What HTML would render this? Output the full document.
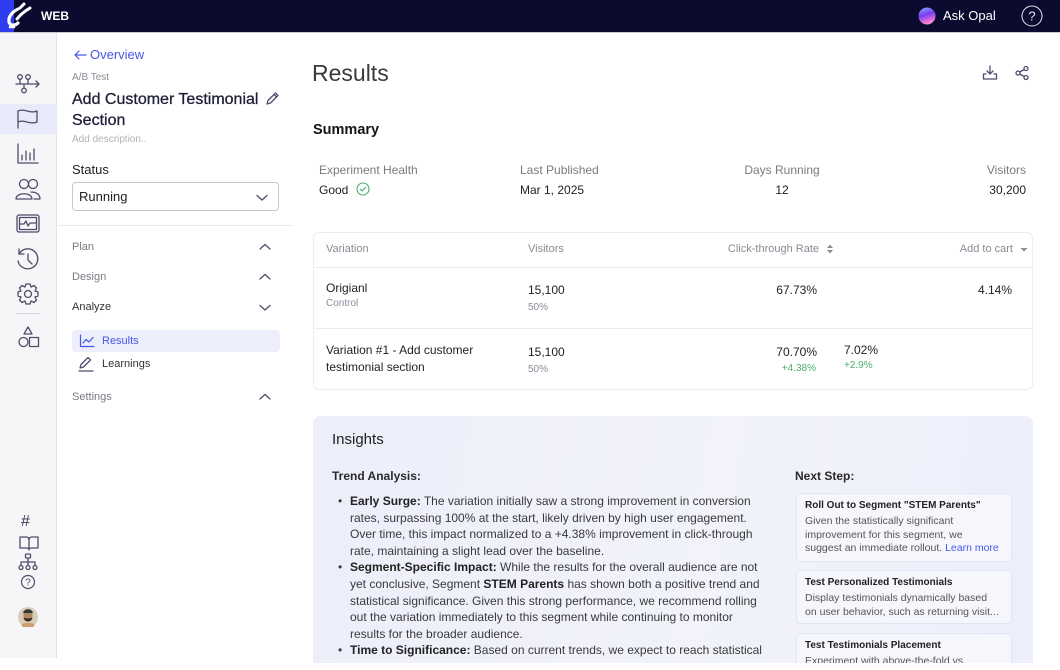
<!DOCTYPE html>
<html><head><meta charset="utf-8">
<style>
*{box-sizing:border-box;margin:0;padding:0}
html,body{width:1060px;height:670px;overflow:hidden;background:#fff;font-family:"Liberation Sans",Arial,sans-serif;color:#222}
.a{position:absolute;white-space:nowrap}
svg{position:absolute;overflow:visible}
.ic{fill:none;stroke:#4d4d6b;stroke-width:1.3;stroke-linecap:round;stroke-linejoin:round}
</style></head><body>
<!-- top bar -->
<div class="a" style="left:0;top:0;width:1060px;height:32px;background:#0b0b30"></div>
<div class="a" style="left:0;top:32px;width:1060px;height:1px;background:#c9cad3"></div>
<div class="a" style="left:0;top:0;width:14px;height:32px;background:#2f3df0"></div>
<svg width="40" height="32" style="left:0;top:0">
  <path d="M18 9 C12 12,8 17,9 22 C10 26,15 26,18 23" fill="none" stroke="#fff" stroke-width="3.2" stroke-linecap="round"/>
  <path d="M24 4 L20 8" stroke="#fff" stroke-width="3" stroke-linecap="round"/>
  <path d="M30 8 C25 11,20 15,17 19" fill="none" stroke="#fff" stroke-width="3" stroke-linecap="round"/>
  <path d="M10 27 L14 27" stroke="#fff" stroke-width="2.6" stroke-linecap="round"/>
</svg>
<div class="a" style="left:41px;top:9px;font-size:12px;color:#fff;font-weight:bold;line-height:14px">WEB</div>
<svg width="18" height="18" style="left:918px;top:7px">
  <defs><linearGradient id="og" x1="0" y1="0" x2="0.3" y2="1"><stop offset="0" stop-color="#7fb4ff"/><stop offset=".5" stop-color="#7a3cf0"/><stop offset="1" stop-color="#ff86d0"/></linearGradient></defs>
  <circle cx="9" cy="9" r="8.5" fill="url(#og)"/>
</svg>
<div class="a" style="left:943px;top:8px;font-size:13px;color:#fff;line-height:16px">Ask Opal</div>
<svg width="22" height="22" style="left:1021px;top:5px"><circle cx="11" cy="11" r="10" fill="none" stroke="#e6e6ee" stroke-width="1"/><text x="11" y="15.5" text-anchor="middle" font-size="13" fill="#e6e6ee" font-family="Liberation Sans">?</text></svg>

<!-- left rail -->
<div class="a" style="left:0;top:33px;width:57px;height:625px;background:#f6f6f8;border-right:1px solid #e2e2e8"></div>
<div class="a" style="left:0;top:104px;width:57px;height:30px;background:#e8eafa"></div>
<svg width="30" height="24" style="left:13px;top:72px" class="ic"><circle cx="7" cy="5" r="2.3"/><circle cx="15" cy="5" r="2.3"/><path d="M7 7.3V12M15 7.3V12M3 12H26M23 9L26 12L23 15M11 12V16"/><circle cx="11" cy="18.5" r="2.3"/></svg>
<svg width="24" height="24" style="left:16px;top:107px" class="ic"><path d="M2 4 C8 1,14 7,21 4 V15 C14 18,8 12,2 15 Z M2 4V21"/></svg>
<svg width="24" height="24" style="left:16px;top:142px" class="ic"><path d="M2 2V21H22"/><path d="M6 13V18M10 9V18M14 11V18M18 7V18"/></svg>
<svg width="28" height="24" style="left:14px;top:177px" class="ic"><circle cx="10" cy="7" r="4.5"/><circle cx="19" cy="7" r="4.5"/><path d="M2 22 C2 15,18 15,18 22 Z M17 15 C22 15,26 17,26 22 H20"/></svg>
<svg width="26" height="24" style="left:15px;top:212px" class="ic"><rect x="2" y="3" width="22" height="17" rx="2"/><rect x="4.5" y="5.5" width="17" height="12"/><path d="M5 12H9L11 9L13 14L15 11H21"/></svg>
<svg width="26" height="26" style="left:15px;top:246px" class="ic"><path d="M4 8 A10 10 0 1 1 3 15"/><path d="M4 3V8H9M13 8V14L17 18"/></svg>
<svg width="26" height="26" style="left:15px;top:281px" class="ic"><circle cx="13" cy="13" r="3.5"/><path d="M11 3H15L16 6L19 4.5L21.5 7L20 10L23 11V15L20 16L21.5 19L19 21.5L16 20L15 23H11L10 20L7 21.5L4.5 19L6 16L3 15V11L6 10L4.5 7L7 4.5L10 6Z"/></svg>
<div class="a" style="left:15px;top:313px;width:26px;height:1px;background:#d9d9df"></div>
<svg width="26" height="26" style="left:15px;top:324px" class="ic"><path d="M13 3L17 10H9Z"/><circle cx="8.5" cy="18" r="4.5"/><rect x="14.5" y="13.5" width="9" height="9"/></svg>
<div class="a" style="left:21px;top:513px;font-size:16px;color:#3a3a5a;line-height:18px">#</div>
<svg width="20" height="16" style="left:19px;top:535px" class="ic"><path d="M1 2H7C9 2,10 3,10 5V15C10 13,9 13,7 13H1Z M19 2H13C11 2,10 3,10 5V15C10 13,11 13,13 13H19Z"/></svg>
<svg width="20" height="18" style="left:18px;top:553px" class="ic"><rect x="7.5" y="1" width="5" height="4" rx="1"/><path d="M10 5V9M3 12V9H17V12M10 9V12"/><circle cx="3" cy="14.5" r="2"/><circle cx="10" cy="14.5" r="2"/><circle cx="17" cy="14.5" r="2"/></svg>
<svg width="16" height="16" style="left:20px;top:574px"><circle cx="8" cy="8" r="6.5" fill="none" stroke="#4d4d6b" stroke-width="1.2"/><text x="8" y="11.5" text-anchor="middle" font-size="10" fill="#4d4d6b" font-family="Liberation Sans">?</text></svg>
<svg width="22" height="22" style="left:17px;top:606px"><circle cx="11" cy="11" r="10" fill="#d9cdb8"/><circle cx="11" cy="9" r="4.5" fill="#b08a66"/><path d="M6 7 C7 2,15 2,16 7Z" fill="#333"/><path d="M6.5 11 C7 17,15 17,15.5 11 C14 13,8 13,6.5 11Z" fill="#3a2a20"/><path d="M4 19 C6 16,16 16,18 19 L16 21H6Z" fill="#c9a070"/></svg>

<!-- secondary panel -->
<svg width="16" height="12" style="left:73px;top:49px"><path d="M13 6H2M6 2L2 6L6 10" fill="none" stroke="#4458e6" stroke-width="1.2" stroke-linecap="round" stroke-linejoin="round"/></svg>
<div class="a" style="left:90px;top:47px;font-size:13px;color:#4458e6;line-height:16px">Overview</div>
<div class="a" style="left:72px;top:72px;font-size:10px;color:#8a8a94;line-height:12px">A/B Test</div>
<div class="a" style="left:72px;top:89px;font-size:16px;color:#1e1e38;line-height:21px;-webkit-text-stroke:0.3px #1e1e38">Add Customer Testimonial<br>Section</div>
<svg width="16" height="16" style="left:264px;top:91px" class="ic"><path d="M3 13L4 9.5L11.5 2L14 4.5L6.5 12Z M10 3.5L12.5 6"/></svg>
<div class="a" style="left:72px;top:134px;font-size:10px;color:#b2b2ba;line-height:12px">Add description..</div>
<div class="a" style="left:72px;top:162px;font-size:13px;color:#222;line-height:16px">Status</div>
<div class="a" style="left:72px;top:182px;width:207px;height:29px;border:1px solid #c6c6ce;border-radius:4px"></div>
<div class="a" style="left:79px;top:189px;font-size:13px;color:#222;line-height:16px">Running</div>
<svg width="12" height="8" style="left:256px;top:194px"><path d="M1 1.5L6 6L11 1.5" fill="none" stroke="#4d4d6b" stroke-width="1.3" stroke-linecap="round"/></svg>
<div class="a" style="left:58px;top:225px;width:235px;height:1px;background:#e8e8ec"></div>
<div class="a" style="left:72px;top:240px;font-size:11px;color:#7a7a84;line-height:14px">Plan</div>
<div class="a" style="left:72px;top:270px;font-size:11px;color:#7a7a84;line-height:14px">Design</div>
<div class="a" style="left:72px;top:300px;font-size:11px;color:#333;line-height:14px">Analyze</div>
<div class="a" style="left:72px;top:390px;font-size:11px;color:#7a7a84;line-height:14px">Settings</div>
<svg width="12" height="8" style="left:259px;top:243px"><path d="M1 6L6 1.5L11 6" fill="none" stroke="#4d4d6b" stroke-width="1.3" stroke-linecap="round"/></svg>
<svg width="12" height="8" style="left:259px;top:273px"><path d="M1 6L6 1.5L11 6" fill="none" stroke="#4d4d6b" stroke-width="1.3" stroke-linecap="round"/></svg>
<svg width="12" height="8" style="left:259px;top:304px"><path d="M1 1.5L6 6L11 1.5" fill="none" stroke="#4d4d6b" stroke-width="1.3" stroke-linecap="round"/></svg>
<svg width="12" height="8" style="left:259px;top:393px"><path d="M1 6L6 1.5L11 6" fill="none" stroke="#4d4d6b" stroke-width="1.3" stroke-linecap="round"/></svg>
<div class="a" style="left:72px;top:330px;width:208px;height:22px;background:#eceefb;border-radius:4px"></div>
<svg width="16" height="14" style="left:79px;top:334px"><path d="M1.5 1V12.5H15M4 9L7 5.5L10 8L14 3.5" fill="none" stroke="#4458e6" stroke-width="1.2" stroke-linecap="round" stroke-linejoin="round"/></svg>
<div class="a" style="left:102px;top:334px;font-size:11px;color:#4458e6;line-height:14px">Results</div>
<svg width="18" height="16" style="left:77px;top:356px" class="ic"><path d="M3 12L4 8.5L11 1.5L13.5 4L6.5 11Z M2 15H16"/></svg>
<div class="a" style="left:102px;top:357px;font-size:11px;color:#333;line-height:14px">Learnings</div>

<!-- main -->
<div class="a" style="left:312px;top:59px;font-size:23px;color:#3a3a3a;line-height:28px">Results</div>
<svg width="16" height="16" style="left:982px;top:65px" class="ic"><path d="M8 1V9M5 6L8 9L11 6M4 9H1.5V14H14.5V9H12"/></svg>
<svg width="16" height="16" style="left:1014px;top:65px" class="ic"><circle cx="12" cy="3.5" r="2"/><circle cx="4" cy="8" r="2"/><circle cx="12" cy="12.5" r="2"/><path d="M5.8 7L10.2 4.5M5.8 9L10.2 11.5"/></svg>
<div class="a" style="left:313px;top:121px;font-size:14.5px;font-weight:bold;color:#151515;line-height:18px">Summary</div>

<div class="a" style="left:319px;top:162px;font-size:12px;color:#7a7a7a;line-height:16px">Experiment Health</div>
<div class="a" style="left:319px;top:182px;font-size:12px;color:#222;line-height:16px">Good</div>
<svg width="14" height="14" style="left:356px;top:182px"><circle cx="7" cy="7" r="6" fill="none" stroke="#4cae6a" stroke-width="1.1"/><path d="M4.3 7.2L6.2 9L9.7 5.3" fill="none" stroke="#4cae6a" stroke-width="1.1" stroke-linecap="round"/></svg>
<div class="a" style="left:520px;top:162px;font-size:12px;color:#7a7a7a;line-height:16px">Last Published</div>
<div class="a" style="left:520px;top:182px;font-size:12px;color:#222;line-height:16px">Mar 1, 2025</div>
<div class="a" style="left:722px;top:162px;width:120px;text-align:center;font-size:12px;color:#7a7a7a;line-height:16px">Days Running</div>
<div class="a" style="left:722px;top:182px;width:120px;text-align:center;font-size:12px;color:#222;line-height:16px">12</div>
<div class="a" style="left:926px;top:162px;width:100px;text-align:right;font-size:12px;color:#7a7a7a;line-height:16px">Visitors</div>
<div class="a" style="left:926px;top:182px;width:100px;text-align:right;font-size:12px;color:#222;line-height:16px">30,200</div>

<!-- table -->
<div class="a" style="left:313px;top:232px;width:720px;height:158px;border:1px solid #ececf1;border-radius:6px"></div>
<div class="a" style="left:313px;top:267px;width:720px;height:1px;background:#ececf1"></div>
<div class="a" style="left:313px;top:328px;width:720px;height:1px;background:#ececf1"></div>
<div class="a" style="left:326px;top:242px;font-size:11px;color:#8a8a96;line-height:14px">Variation</div>
<div class="a" style="left:528px;top:242px;font-size:11px;color:#8a8a96;line-height:14px">Visitors</div>
<div class="a" style="left:680px;top:242px;width:139px;text-align:right;font-size:11px;color:#8a8a96;line-height:14px">Click-through Rate</div>
<svg width="8" height="12" style="left:826px;top:243px"><path d="M1 5L4 1.5L7 5Z M1 7L4 10.5L7 7Z" fill="#8a8a96"/></svg>
<div class="a" style="left:900px;top:242px;width:113px;text-align:right;font-size:11px;color:#8a8a96;line-height:14px">Add to cart</div>
<svg width="8" height="6" style="left:1020px;top:247px"><path d="M0.5 1L4 4.5L7.5 1Z" fill="#8a8a96"/></svg>

<div class="a" style="left:326px;top:280px;font-size:12px;color:#222;line-height:16px">Origianl</div>
<div class="a" style="left:326px;top:298px;font-size:10px;color:#8a8a9a;line-height:12px">Control</div>
<div class="a" style="left:528px;top:282px;font-size:12px;color:#222;line-height:16px">15,100</div>
<div class="a" style="left:528px;top:302px;font-size:10px;color:#8a8a9a;line-height:12px">50%</div>
<div class="a" style="left:717px;top:282px;width:100px;text-align:right;font-size:12px;color:#222;line-height:16px">67.73%</div>
<div class="a" style="left:912px;top:282px;width:100px;text-align:right;font-size:12px;color:#222;line-height:16px">4.14%</div>

<div class="a" style="left:326px;top:342px;font-size:12px;color:#222;line-height:16.5px">Variation #1 - Add customer<br>testimonial section</div>
<div class="a" style="left:528px;top:344px;font-size:12px;color:#222;line-height:16px">15,100</div>
<div class="a" style="left:528px;top:364px;font-size:10px;color:#8a8a9a;line-height:12px">50%</div>
<div class="a" style="left:717px;top:344px;width:100px;text-align:right;font-size:12px;color:#222;line-height:16px">70.70%</div>
<div class="a" style="left:717px;top:363px;width:99px;text-align:right;font-size:10px;color:#4cae6a;line-height:12px">+4.38%</div>
<div class="a" style="left:844px;top:342px;font-size:12px;color:#222;line-height:16px">7.02%</div>
<div class="a" style="left:844px;top:360px;font-size:10px;color:#4cae6a;line-height:12px">+2.9%</div>

<!-- insights -->
<div class="a" style="left:313px;top:416px;width:720px;height:247px;border-radius:8px 8px 0 0;overflow:hidden;background:linear-gradient(100deg,#eceefa 0%,#f1f2fa 55%,#eceffb 100%)">
  <div class="a" style="left:19px;top:15px;font-size:15px;color:#1e1e1e;line-height:18px">Insights</div>
  <div class="a" style="left:19px;top:52px;font-size:12px;font-weight:bold;color:#2a2a2a;line-height:16px">Trend Analysis:</div>
  <div class="a" style="left:482px;top:52px;font-size:12px;font-weight:bold;color:#2a2a2a;line-height:16px">Next Step:</div>
  <div class="a" style="left:25px;top:77px;font-size:12px;color:#3a3a3a;line-height:16.6px">•<br><br><br><br>•<br><br><br><br><br>•</div>
  <div class="a" style="left:37px;top:77px;font-size:12px;color:#3a3a3a;line-height:16.6px"><b style="color:#222">Early Surge:</b> The variation initially saw a strong improvement in conversion<br>rates, surpassing 100% at the start, likely driven by high user engagement.<br>Over time, this impact normalized to a +4.38% improvement in click-through<br>rate, maintaining a slight lead over the baseline.<br><b style="color:#222">Segment-Specific Impact:</b> While the results for the overall audience are not<br>yet conclusive, Segment <b style="color:#222">STEM Parents</b> has shown both a positive trend and<br>statistical significance. Given this strong performance, we recommend rolling<br>out the variation immediately to this segment while continuing to monitor<br>results for the broader audience.<br><b style="color:#222">Time to Significance:</b> Based on current trends, we expect to reach statistical</div>

  <div class="a" style="left:483px;top:77px;width:216px;height:69px;background:#f6f7fd;border:1px solid #e3e5f3;border-radius:4px"></div>
  <div class="a" style="left:492px;top:84px;font-size:10px;font-weight:bold;color:#222;line-height:12px">Roll Out to Segment "STEM Parents"</div>
  <div class="a" style="left:492px;top:99px;font-size:10.5px;color:#555;line-height:13.5px">Given the statistically significant<br>improvement for this segment, we<br>suggest an immediate rollout. <span style="color:#4458e6">Learn more</span></div>
  <div class="a" style="left:483px;top:154px;width:216px;height:54px;background:#f6f7fd;border:1px solid #e3e5f3;border-radius:4px"></div>
  <div class="a" style="left:492px;top:161px;font-size:10px;font-weight:bold;color:#222;line-height:12px">Test Personalized Testimonials</div>
  <div class="a" style="left:492px;top:176px;font-size:10.5px;color:#555;line-height:13.5px">Display testimonials dynamically based<br>on user behavior, such as returning visit...</div>
  <div class="a" style="left:483px;top:217px;width:216px;height:50px;background:#f6f7fd;border:1px solid #e3e5f3;border-radius:4px"></div>
  <div class="a" style="left:492px;top:224px;font-size:10px;font-weight:bold;color:#222;line-height:12px">Test Testimonials Placement</div>
  <div class="a" style="left:492px;top:239px;font-size:10.5px;color:#555;line-height:13.5px">Experiment with above-the-fold vs.</div>
</div>
<div class="a" style="left:0;top:663px;width:1060px;height:7px;background:#fff"></div>
</body></html>
